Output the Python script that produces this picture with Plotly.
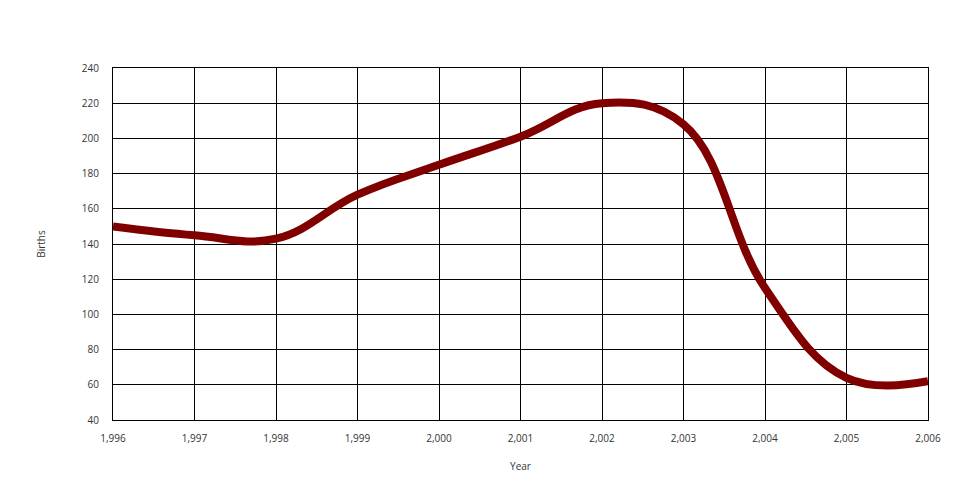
import plotly.graph_objects as go

years = [1996, 1997, 1998, 1999, 2000, 2001, 2002, 2003, 2004, 2005, 2006]
births = [150, 145, 143, 168, 185, 201, 220, 208, 115, 64, 62]

fig = go.Figure()
fig.add_trace(go.Scatter(
    x=years, y=births, mode="lines",
    line=dict(color="#800000", width=8, shape="spline", smoothing=1.15),
    showlegend=False, hoverinfo="x+y",
))

axis_common = dict(
    showgrid=True, gridcolor="#000000", gridwidth=1,
    showline=True, linecolor="#000000", linewidth=1, mirror=True,
    zeroline=False, ticks="", tickfont=dict(family="Open Sans", size=10, color="#333333"),
)

fig.update_layout(
    width=960, height=500,
    paper_bgcolor="#ffffff", plot_bgcolor="#ffffff",
    margin=dict(l=105, r=40, t=60, b=88),
    font=dict(family="Open Sans", size=10, color="#333333"),
    xaxis=dict(range=[1996, 2006], dtick=1, tickformat=",d", ticklabelstandoff=9,
               title=dict(text="Year", font=dict(size=10), standoff=18), **axis_common),
    yaxis=dict(range=[40, 240], dtick=20, ticklabelstandoff=11,
               title=dict(text="Births", font=dict(size=10), standoff=34), **axis_common),
)

fig.write_html("out.html")
